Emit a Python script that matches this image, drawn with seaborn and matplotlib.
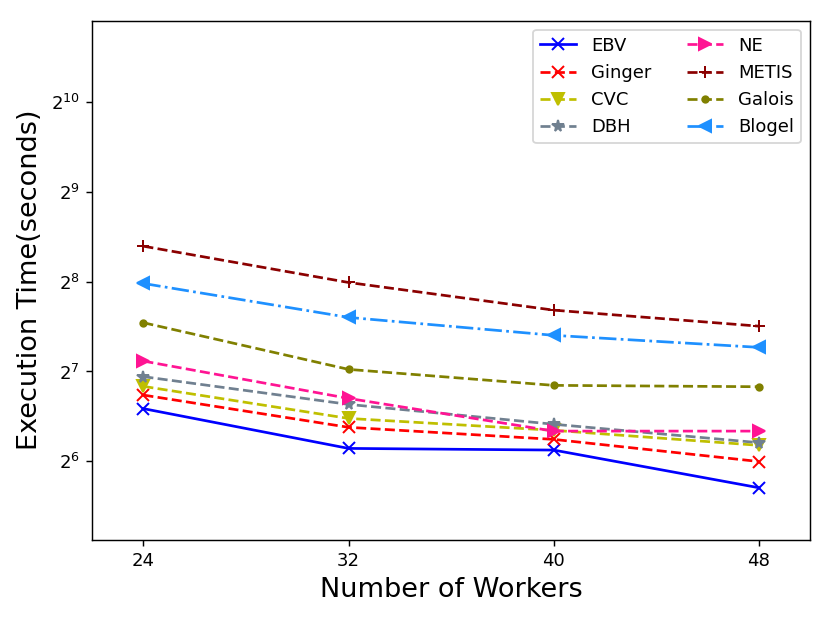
import numpy as np
import pandas as pd
import matplotlib
matplotlib.use("Agg")
import matplotlib.pyplot as plt
import seaborn as sns

workers = [24, 32, 40, 48]

ebv = [96.1, 70.7, 69.8, 52.2]
ginger = [106.7, 83.2, 75.8, 63.9]
cvc = [114.1, 89.1, 81.3, 72.4]
dbh = [123.0, 99.3, 85.2, 73.9]
ne = [138.7, 104.0, 80.8, 80.8]
metis = [336.6, 254.4, 205.5, 181.6]
galois = [186.5, 130.1, 115.0, 113.8]
blogel = [252.5, 194.3, 169.2, 154.2]

# name, values, colour, marker, linestyle, markersize
series = [
    ("EBV", ebv, "blue", "x", "-", 6.5),
    ("Ginger", ginger, "red", "x", "--", 6.5),
    ("CVC", cvc, "y", "v", "--", 6.5),
    ("DBH", dbh, "slategray", "*", "--", 6.5),
    ("NE", ne, "deeppink", ">", "--", 6.5),
    ("METIS", metis, "darkred", "+", "--", 6.5),
    ("Galois", galois, "olive", ".", "--", 7),
    ("Blogel", blogel, "dodgerblue", "<", "-.", 6.5),
]

fig = plt.figure(figsize=(830 / 130, 623 / 130), dpi=130)
ax = fig.add_axes([0.111, 0.134, 0.865, 0.833])

for name, vals, col, mk, ls, ms in series:
    df = pd.DataFrame({"workers": workers, "time": vals})
    sns.lineplot(data=df, x="workers", y="time", ax=ax, color=col, marker=mk,
                 linestyle=ls, markersize=ms, linewidth=1.5, label=name,
                 markeredgecolor=col, markeredgewidth=1.1)

ax.set_yscale("log", base=2)
ax.set_ylim(35, 1920)
ax.set_xlim(22, 50)
ax.set_xticks(workers)
ax.set_xlabel("Number of Workers", fontsize=15)
ax.set_ylabel("Execution Time(seconds)", fontsize=15)
ax.tick_params(labelsize=10)
ax.legend(ncol=2, loc="upper right", fontsize=10)

fig.savefig("out.png", dpi=130)
